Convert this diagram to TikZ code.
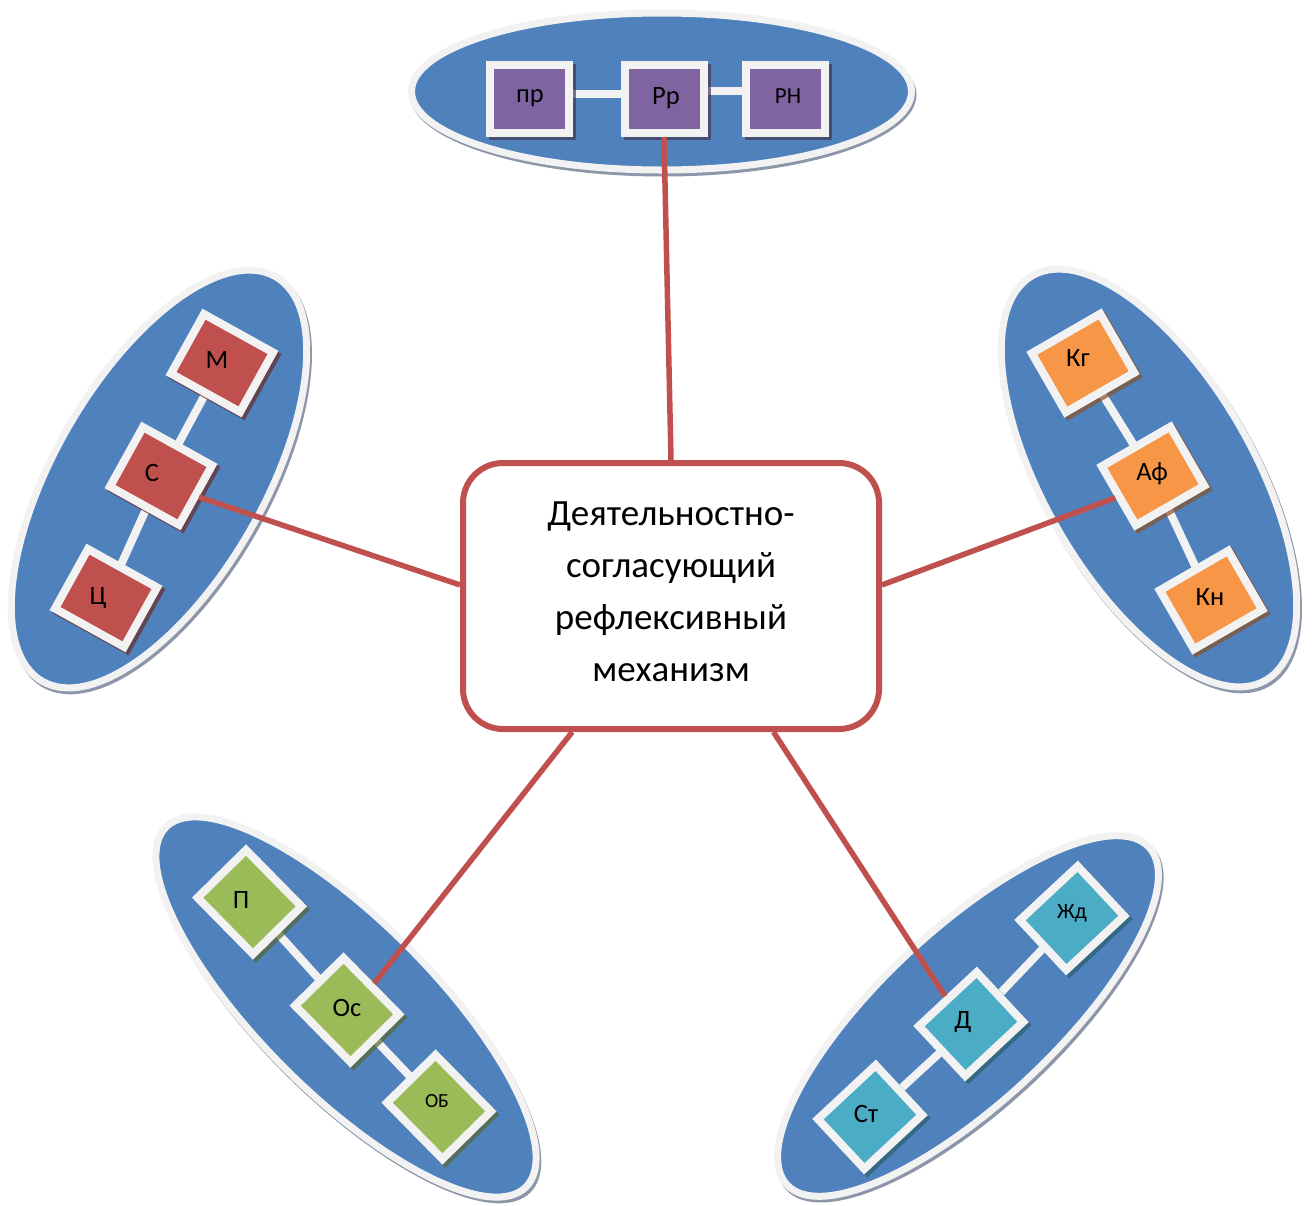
\documentclass[tikz,border=0pt]{standalone}
\usepackage{fontspec}
\setmainfont{Carlito}
\usetikzlibrary{shapes.geometric}
\definecolor{eblue}{HTML}{4F81BD}
\definecolor{ering}{HTML}{F2F2F2}
\definecolor{eshadow}{HTML}{8C96A8}
\definecolor{cred}{HTML}{C0504D}
\definecolor{cpurple}{HTML}{8064A2}
\definecolor{corange}{HTML}{F79646}
\definecolor{cgreen}{HTML}{9BBB59}
\definecolor{caqua}{HTML}{4BACC6}
\begin{document}
\begin{tikzpicture}[x=1pt,y=-1pt,
  oval/.style={ellipse, draw=ering, line width=7pt, fill=eblue, inner sep=0pt, outer sep=0pt},
  ovalsh/.style={ellipse, fill=eshadow, inner sep=0pt, outer sep=0pt},
  sq/.style={rectangle, draw=ering, line width=8pt, fill=#1, inner sep=0pt,
    minimum width=79pt, minimum height=68pt},
  sqsh/.style={rectangle, fill=#1!55!black, opacity=0.7, inner sep=0pt,
    minimum width=87pt, minimum height=76pt},
  link/.style={draw=ering, line width=8pt},
  redline/.style={draw=cred, line width=5.5pt},
  lbl/.style={font=\fontsize{26.5}{30}\selectfont, inner sep=0pt},
  central/.style={rectangle, rounded corners=40pt, draw=cred, line width=6pt, fill=white,
    minimum width=416pt, minimum height=266pt},
  centraltext/.style={align=center, inner sep=0pt, font=\fontsize{37}{52}\selectfont}
]
\useasboundingbox (0,0) rectangle (1312,1205);

% ---------- ellipse shadows ----------
\node[ovalsh, minimum width=507pt, minimum height=164pt] (shTop) at (663,94.5) {};
\node[ovalsh, minimum width=474pt, minimum height=216pt, rotate=60] (shL) at (161,482) {};
\node[ovalsh, minimum width=474pt, minimum height=216pt, rotate=120] (shR) at (1151,481) {};
\node[ovalsh, minimum width=516pt, minimum height=180pt, rotate=-45] (shBL) at (348,1010) {};
\node[ovalsh, minimum width=502pt, minimum height=180pt, rotate=43] (shBR) at (970,1019) {};

% ---------- ellipses ----------
\node[oval, minimum width=500pt, minimum height=157pt] (eTop) at (661.5,91.5) {};
\node[oval, minimum width=467pt, minimum height=209pt, rotate=60] (eL) at (159,479) {};
\node[oval, minimum width=467pt, minimum height=209pt, rotate=120] (eR) at (1149,478) {};
\node[oval, minimum width=509pt, minimum height=173pt, rotate=-45] (eBL) at (346,1007) {};
\node[oval, minimum width=495pt, minimum height=173pt, rotate=43] (eBR) at (968,1016) {};

% ---------- coordinates of box centres ----------
\coordinate (cpr) at (529.5,99);
\coordinate (cRr) at (664,99);
\coordinate (cRN) at (785,99);
\coordinate (cM) at (222,363);
\coordinate (cC) at (161,476);
\coordinate (cTs) at (106,598);
\coordinate (cKg) at (1083,363);
\coordinate (cAf) at (1153,476);
\coordinate (cKn) at (1211,600);
\coordinate (cP) at (249.5,902);
\coordinate (cOs) at (347,1010);
\coordinate (cOb) at (439,1107);
\coordinate (cZh) at (1072,918);
\coordinate (cD) at (971,1024);
\coordinate (cSt) at (870,1117);

% ---------- white links ----------
\draw[link] ([yshift=5pt]cpr) -- ([yshift=5pt]cRr);
\draw[link] ([yshift=8pt]cRr) -- ([yshift=8pt]cRN);
\draw[link] (cM) -- (cC);
\draw[link] (cC) -- (cTs);
\draw[link] (cKg) -- (cAf);
\draw[link] (cAf) -- (cKn);
\draw[link] (cP) -- (cOs);
\draw[link] (cOs) -- (cOb);
\draw[link] (cZh) -- (cD);
\draw[link] (cD) -- (cSt);

% ---------- box shadows ----------
\foreach \p/\c/\r in {cpr/cpurple/0, cRr/cpurple/0, cRN/cpurple/0,
    cM/cred/-29, cC/cred/-29, cTs/cred/-29,
    cKg/corange/30, cAf/corange/30, cKn/corange/30,
    cP/cgreen/-45.5, cOs/cgreen/-45.5, cOb/cgreen/-45.5,
    cZh/caqua/43, cD/caqua/43, cSt/caqua/43}
  \node[sqsh=\c, rotate=\r] at ([shift={(3,3)}]\p) {};

% ---------- boxes ----------
\node[sq=cpurple] (pr) at (cpr) {};
\node[sq=cpurple] (Rr) at (cRr) {};
\node[sq=cpurple] (RN) at (cRN) {};
\node[sq=cred, rotate=-29] (M) at (cM) {};
\node[sq=cred, rotate=-29] (C) at (cC) {};
\node[sq=cred, rotate=-29] (Ts) at (cTs) {};
\node[sq=corange, rotate=30] (Kg) at (cKg) {};
\node[sq=corange, rotate=30] (Af) at (cAf) {};
\node[sq=corange, rotate=30] (Kn) at (cKn) {};
\node[sq=cgreen, rotate=-45.5] (P) at (cP) {};
\node[sq=cgreen, rotate=-45.5] (Os) at (cOs) {};
\node[sq=cgreen, rotate=-45.5] (Ob) at (cOb) {};
\node[sq=caqua, rotate=43] (Zh) at (cZh) {};
\node[sq=caqua, rotate=43] (D) at (cD) {};
\node[sq=caqua, rotate=43] (St) at (cSt) {};

% ---------- central node ----------
\node[central] (cb) at (671,596) {};
\node[centraltext] (cbt) at (671,592) {Деятельностно-\\согласующий\\рефлексивный\\механизм};

% ---------- red connectors ----------
\draw[redline] (cb.north) -- (Rr.south);
\draw[redline] (cb.177) -- (C.east);
\draw[redline] (cb.3) -- (Af.west);
\draw[redline] (cb.234) -- (Os.north);
\draw[redline] (cb.307) -- (D.north);

% ---------- labels ----------
\node[lbl] (tpr) at (530,98) {пр};
\node[lbl] (tRr) at (666,98) {Рр};
\node[lbl, font=\fontsize{23}{27}\selectfont] (tRN) at (788,96) {РН};
\node[lbl] (tM) at (217,360) {М};
\node[lbl] (tC) at (152,473) {С};
\node[lbl] (tTs) at (98,598) {Ц};
\node[lbl] (tKg) at (1078,358) {Кг};
\node[lbl] (tAf) at (1152,474) {Аф};
\node[lbl] (tKn) at (1210,597) {Кн};
\node[lbl] (tP) at (241,900) {П};
\node[lbl] (tOs) at (347,1008) {Ос};
\node[lbl, font=\fontsize{20}{24}\selectfont] (tOb) at (437,1101) {ОБ};
\node[lbl, font=\fontsize{22}{26}\selectfont] (tZh) at (1072,913) {Жд};
\node[lbl] (tD) at (963,1022) {Д};
\node[lbl] (tSt) at (866,1114) {Ст};
\end{tikzpicture}
\end{document}
